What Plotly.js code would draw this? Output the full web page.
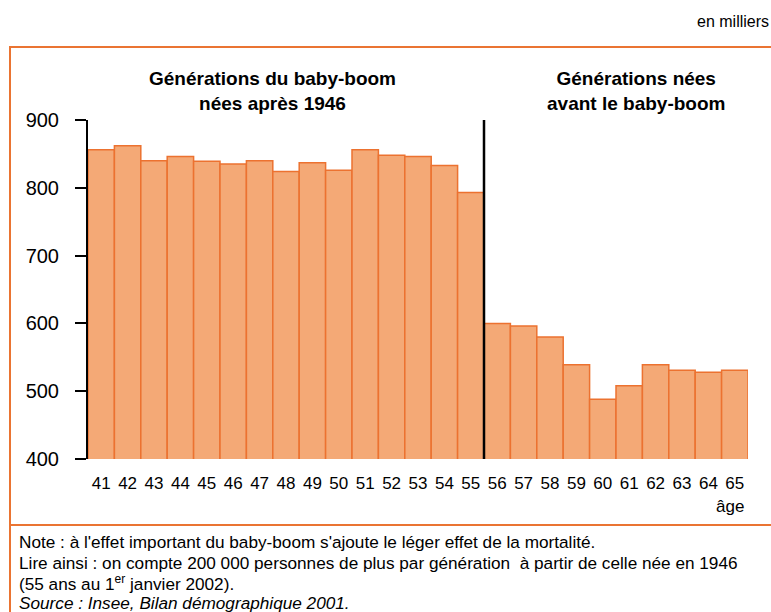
<!DOCTYPE html>
<html><head><meta charset="utf-8">
<script src="https://cdn.plot.ly/plotly-3.0.1.min.js"></script>
<style>html,body{margin:0;padding:0;background:#fff;}#chart{width:771px;height:612px;}</style>
</head><body><div id="chart"></div>
<script>
const ages = [41,42,43,44,45,46,47,48,49,50,51,52,53,54,55,56,57,58,59,60,61,62,63,64,65];
const population = [856,862,840,846,839,835,840,824,837,826,856,848,846,833,793,600,596,580,539,488,508,539,531,528,531];
const yTicks = [400,500,600,700,800,900];
const groupLeft = "Générations du baby-boom<br>nées après 1946";
const groupRight = "Générations nées<br>avant le baby-boom";
const unitLabel = "en milliers";
const axisLabel = "âge";
const notes = [
  "Note : à l'effet important du baby-boom s'ajoute le léger effet de la mortalité.",
  "Lire ainsi : on compte 200 000 personnes de plus par génération  à partir de celle née en 1946",
  "(55 ans au 1<sup>er</sup> janvier 2002).",
  "<i>Source : Insee, Bilan démographique 2001.</i>"
];
const dividerAge = 55.5;

const FONT = "'Liberation Sans', Arial, sans-serif";
const ORANGE = "#EA7432";

// plot area pixel geometry
const L = 88, R = 748, T = 120, B = 459;
const px = x => (x - L) / (R - L);
const py = y => (B - y) / (B - T);

const trace = {
  type: 'bar', x: ages, y: population,
  marker: {color: '#F4A976', line: {color: '#EC7230', width: 1.5}},
  hoverinfo: 'x+y'
};

const annotations = [
  {text: groupLeft, x: px(272), y: py(91), xref:'paper', yref:'paper', xanchor:'center', yanchor:'middle', showarrow:false,
   font:{family:FONT, size:19, color:'#000', weight:'bold'}, align:'center'},
  {text: groupRight, x: px(636), y: py(91), xref:'paper', yref:'paper', xanchor:'center', yanchor:'middle', showarrow:false,
   font:{family:FONT, size:19, color:'#000', weight:'bold'}, align:'center'},
  {text: unitLabel, x: px(771), y: py(22), xref:'paper', yref:'paper', xanchor:'right', yanchor:'middle', showarrow:false,
   font:{family:FONT, size:16, color:'#000'}},
  {text: axisLabel, x: px(746), y: py(506), xref:'paper', yref:'paper', xanchor:'right', yanchor:'middle', showarrow:false,
   font:{family:FONT, size:17, color:'#000'}}
];
const noteY = [542, 563, 583, 603];
notes.forEach((t,i) => annotations.push({
  text: t, x: px(17), y: py(noteY[i]), xref:'paper', yref:'paper', xanchor:'left', yanchor:'middle',
  showarrow:false, font:{family:FONT, size:17.2, color:'#000'}
}));

const layout = {
  width: 771, height: 612,
  margin: {l: L, r: 771 - R, t: T, b: 612 - B, pad: 0},
  paper_bgcolor: '#fff', plot_bgcolor: '#fff',
  bargap: 0, showlegend: false,
  font: {family: FONT, color: '#000'},
  xaxis: {
    range: [ages[0] - 0.5, ages[ages.length-1] + 0.5],
    tickmode: 'array', tickvals: ages, ticktext: ages.map(String),
    ticks: '', showline: false, showgrid: false, zeroline: false,
    tickfont: {family: FONT, size: 17}, ticklabelstandoff: 12
  },
  yaxis: {
    range: [400, 900], tickmode: 'array', tickvals: yTicks,
    ticks: 'outside', ticklen: 11, tickwidth: 2, tickcolor: '#000',
    showline: true, linecolor: '#000', linewidth: 2,
    showgrid: false, zeroline: false,
    tickfont: {family: FONT, size: 20}, ticklabelstandoff: 12
  },
  shapes: [
    {type:'rect', xref:'paper', yref:'paper', x0: px(10), x1: px(773), y0: py(525), y1: py(47),
     line:{color:ORANGE, width:2}, layer:'below'},
    {type:'rect', xref:'paper', yref:'paper', x0: px(10), x1: px(773), y0: py(614), y1: py(525),
     line:{color:ORANGE, width:2}, layer:'below'},
    {type:'line', xref:'x', yref:'y', x0: dividerAge, x1: dividerAge, y0: 400, y1: 900,
     line:{color:'#000', width:2.5}}
  ],
  annotations: annotations
};

Plotly.newPlot('chart', [trace], layout, {displayModeBar: false, staticPlot: true});
</script>
</body></html>
